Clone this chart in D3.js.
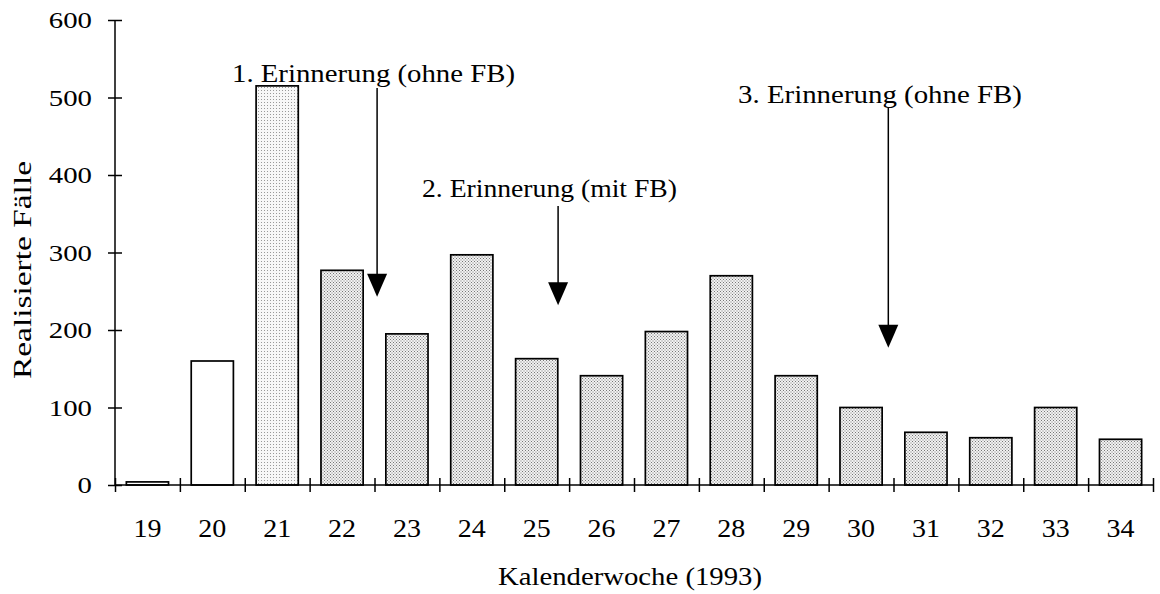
<!DOCTYPE html>
<html>
<head>
<meta charset="utf-8">
<script src="https://cdn.jsdelivr.net/npm/d3@7"></script>
<style>
  html, body { margin: 0; padding: 0; background: #fff; }
  svg text { font-family: "Liberation Serif", "Times New Roman", serif; fill: #000; }
</style>
</head>
<body>
<svg id="chart" width="1160" height="594"></svg>
<script>
// ---- data ----
const weeks = ["19","20","21","22","23","24","25","26","27","28","29","30","31","32","33","34"];
const cases = [4, 160, 515, 277, 195, 297, 163, 141, 198, 270, 141, 100, 68, 61, 100, 59];
const yTicks = [0, 100, 200, 300, 400, 500, 600];
const yTitle = "Realisierte Fälle";
const xTitle = "Kalenderwoche (1993)";
const noteLabels = ["1. Erinnerung (ohne FB)", "2. Erinnerung (mit FB)", "3. Erinnerung (ohne FB)"];
const noteArrowPos = [4.04, 6.83, 11.92];   // in week-slot units from axis start
const noteArrowTip = [243, 232, 177];       // value where arrow tip points

// ---- layout ----
const svg = d3.select("#chart");
const pLeft = 115, pRight = 1153, pTop = 20, pBottom = 485;
const stretch = 1.14; // scanned type is slightly wider than it is tall

const x = d3.scaleBand().domain(weeks).range([pLeft, pRight])
  .paddingInner(0.35).paddingOuter(0.175);
const xSlot = d3.scaleLinear().domain([0, weeks.length]).range([pLeft, pRight]);
const y = d3.scaleLinear().domain([0, 600]).range([pBottom, pTop]);

// stipple patterns
const defs = svg.append("defs");
function stipple(id, bg, dot, density) {
  const p = defs.append("pattern").attr("id", id).attr("patternUnits", "userSpaceOnUse")
    .attr("width", 3).attr("height", 3);
  p.append("rect").attr("width", 3).attr("height", 3).attr("fill", bg);
  p.append("rect").attr("x", 0).attr("y", 0).attr("width", 1).attr("height", 1).attr("fill", dot);
  if (density > 1) p.append("rect").attr("x", 1.5).attr("y", 1.5).attr("width", 1).attr("height", 1).attr("fill", dot);
}
stipple("dots", "#f2f2f2", "#777777", 2);
stipple("dotsLight", "#f7f7f7", "#999999", 1);

function fillFor(i) {
  const w = +weeks[i];
  if (w <= 20) return "#ffffff";
  if (w === 21) return "url(#dotsLight)";
  return "url(#dots)";
}

// bars
svg.append("g").selectAll("rect").data(cases).join("rect")
  .attr("x", (d, i) => x(weeks[i]))
  .attr("y", d => y(d))
  .attr("width", x.bandwidth())
  .attr("height", d => pBottom - y(d))
  .attr("fill", (d, i) => fillFor(i))
  .attr("stroke", "#000")
  .attr("stroke-width", 1.7);

// y axis
const yAxis = svg.append("g").attr("transform", `translate(${pLeft},0)`)
  .call(d3.axisLeft(y).tickValues(yTicks).tickSize(7).tickPadding(16));
yAxis.select(".domain").attr("stroke", "#000").attr("stroke-width", 1.5).attr("d", `M0,${pTop}V${pBottom}`);
yAxis.selectAll(".tick line").attr("x1", -7).attr("x2", 7).attr("stroke", "#000").attr("stroke-width", 1.5);
yAxis.selectAll(".tick text").attr("font-size", 24).attr("x", -23 / 1.2)
  .attr("transform", "scale(1.2,1)");

// x axis (slot boundaries)
const xAxis = svg.append("g").attr("transform", `translate(0,${pBottom})`)
  .call(d3.axisBottom(xSlot).tickValues(d3.range(0, weeks.length + 1)).tickSize(7).tickFormat(""));
xAxis.select(".domain").attr("stroke", "#000").attr("stroke-width", 1.5).attr("d", `M${pLeft},0H${pRight}`);
xAxis.selectAll(".tick line").attr("y1", -7).attr("y2", 7).attr("stroke", "#000").attr("stroke-width", 1.5);

// x labels
svg.append("g").selectAll("text").data(weeks).join("text")
  .attr("transform", d => `translate(${x(d) + x.bandwidth() / 2},537) scale(1.12,1)`)
  .attr("text-anchor", "middle")
  .attr("font-size", 25)
  .text(d => d);

// titles
svg.append("text")
  .attr("transform", `translate(31,270) rotate(-90)`)
  .attr("text-anchor", "middle")
  .attr("font-size", 25)
  .attr("textLength", 218).attr("lengthAdjust", "spacingAndGlyphs")
  .text(yTitle);
svg.append("text")
  .attr("x", 630).attr("y", 585)
  .attr("text-anchor", "middle")
  .attr("font-size", 25)
  .attr("textLength", 264).attr("lengthAdjust", "spacingAndGlyphs")
  .text(xTitle);

// annotations
const noteTextX = [232, 422, 738];
const noteTextY = [82, 197, 103];
const noteWidth = [283, 255, 284];
const noteLineStart = [88, 206, 108];
const g = svg.append("g");
noteLabels.forEach((lab, i) => {
  g.append("text").attr("x", noteTextX[i]).attr("y", noteTextY[i])
    .attr("font-size", 25)
    .attr("textLength", noteWidth[i]).attr("lengthAdjust", "spacingAndGlyphs")
    .text(lab);
  const ax = xSlot(noteArrowPos[i]);
  const tip = y(noteArrowTip[i]);
  g.append("line").attr("x1", ax).attr("x2", ax)
    .attr("y1", noteLineStart[i]).attr("y2", tip - 20)
    .attr("stroke", "#000").attr("stroke-width", 1.5);
  g.append("path")
    .attr("d", `M${ax - 10},${tip - 23}L${ax + 10},${tip - 23}L${ax},${tip}Z`)
    .attr("fill", "#000");
});
</script>
</body>
</html>
